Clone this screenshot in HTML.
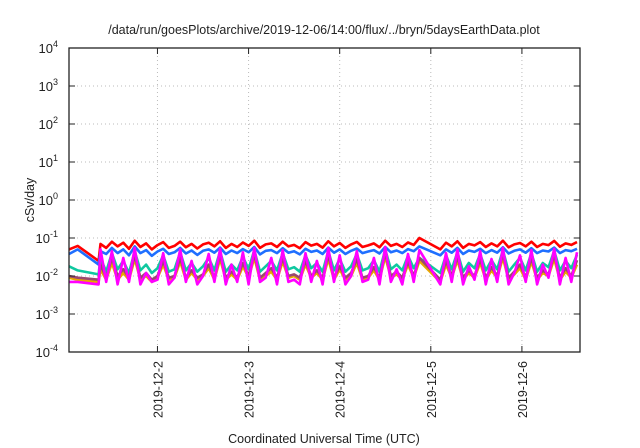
<!DOCTYPE html>
<html><head><meta charset="utf-8"><style>
body{margin:0;background:#fff;}
svg{display:block;font-family:"Liberation Sans",sans-serif;}
</style></head><body>
<svg id="chart" width="640" height="448" viewBox="0 0 640 448" xmlns="http://www.w3.org/2000/svg">
<rect width="640" height="448" fill="#fff"/>
<text x="324" y="34" font-size="12.5" text-anchor="middle" fill="#222">/data/run/goesPlots/archive/2019-12-06/14:00/flux/../bryn/5daysEarthData.plot</text>
<g id="grid"></g>
<g id="series"></g>
<g id="axes"></g>
<text transform="translate(34,200) rotate(-90)" font-size="12.5" text-anchor="middle" fill="#222">cSv/day</text>
<text x="324" y="443" font-size="12.5" text-anchor="middle" fill="#222">Coordinated Universal Time (UTC)</text>
</svg>
<script>
const times=[0.7,3.0,8.5,
9,10.5,12,13.5,15,16.5,18,19.5,21,22.5,24,25.5,27,28.5,30,31.5,33,34.5,36,37.5,39,40.5,42,43.5,45,46.5,48,49.5,51,52.5,54,55.5,57,58.5,60,61.5,63,64.5,66,67.5,69,70.5,72,73.5,75,76.5,78,79.5,81,82.5,84,85.5,87,88.5,90,91.5,93,
98.5,100,101.5,103,104.5,106,107.5,109,110.5,112,113.5,115,116.5,118,119.5,121,122.5,124,125.5,127,128.5,130,131.5,133,134.5];
// values in milli-cSv/day
const redVals=[50,62,25,
70,55,80,60,75,52,85,58,72,50,65,78,55,62,80,57,70,53,68,75,60,82,55,70,58,76,62,85,55,68,72,58,80,60,66,54,78,63,70,56,82,60,74,55,68,79,58,64,72,57,85,62,70,58,76,66,100,
50,75,60,82,55,70,64,78,58,72,60,85,57,68,74,60,80,58,70,65,84,59,72,66,78];
const blueVals=[38,50,20,
45,38,55,40,50,35,60,40,48,34,44,52,38,42,55,39,47,36,46,50,41,56,38,47,40,51,42,58,37,46,48,40,54,41,45,37,52,43,47,38,56,41,50,38,46,53,40,44,48,39,58,42,47,40,51,45,60,
35,50,41,55,38,47,43,52,40,48,41,57,39,46,50,41,54,40,47,44,56,40,48,45,52];
const tealVals=[18,14,11,
30,13,40,15,25,12,45,14,20,12,16,35,13,15,42,14,22,13,18,30,14,45,13,20,14,32,15,48,13,18,25,14,40,15,17,13,35,16,22,13,45,14,28,13,18,38,14,16,26,13,50,15,20,14,34,16,30,
12,35,15,42,13,22,16,38,14,26,15,48,13,20,30,14,40,13,22,17,46,14,25,16,36];
const orangeVals=[9,8,7,
15,8,22,8,12,8,28,8,10,7,9,20,8,9,24,8,12,8,10,16,8,28,8,11,8,18,9,30,8,10,13,8,24,9,10,8,20,9,12,8,28,8,15,8,10,22,8,9,14,8,32,9,11,8,20,9,25,
7,20,9,26,8,12,9,22,8,14,9,30,8,11,16,8,24,8,12,10,28,8,13,9,20];
const brownVals=[10,9,8,
20,9,30,10,15,9,35,9,12,8,10,25,9,10,30,9,14,9,11,20,9,35,9,13,9,22,10,38,9,12,16,9,30,10,11,9,25,10,14,9,35,9,18,9,12,28,9,10,17,9,40,10,13,9,24,10,30,
8,25,10,32,9,14,10,28,9,17,10,38,9,13,20,9,30,9,14,11,36,9,16,10,26];
const magentaVals=[7,7,6,
50,7,45,6,30,7,55,6,12,7,8,40,6,9,50,7,25,6,10,38,7,52,6,20,7,42,6,55,7,9,30,6,48,7,8,6,40,7,25,6,55,7,35,6,10,45,7,8,30,6,58,7,15,6,38,7,48,
6,40,7,50,6,18,8,45,6,28,7,55,6,12,35,7,48,6,20,9,52,6,30,7,42];
const dateLabels=["2019-12-2","2019-12-3","2019-12-4","2019-12-5","2019-12-6"];
const dateHours=[24,48,72,96,120];
const yExps=[-4,-3,-2,-1,0,1,2,3,4];

const L=69,R=580,T=48,B=352,tMin=0.7,tMax=135.3;
const NS="http://www.w3.org/2000/svg";
const xs=t=>L+(t-tMin)/(tMax-tMin)*(R-L);
const ys=v=>B-(Math.log10(v)+4)/8*(B-T);
function mk(tag,attrs,parent){const e=document.createElementNS(NS,tag);for(const k in attrs)e.setAttribute(k,attrs[k]);parent.appendChild(e);return e;}
const grid=document.getElementById('grid'),axes=document.getElementById('axes'),ser=document.getElementById('series');
yExps.forEach(ex=>{
  const y=ys(Math.pow(10,ex));
  if(ex>-4&&ex<4){const g=mk('line',{x1:L,x2:R,y1:y,y2:y,stroke:'#bbb','stroke-width':1,'stroke-dasharray':'1,3'},grid);
  
  }
  mk('line',{x1:L,x2:L+6,y1:y,y2:y,stroke:'#222','stroke-width':1},axes);
  mk('line',{x1:R,x2:R-6,y1:y,y2:y,stroke:'#222','stroke-width':1},axes);
  const t=mk('text',{x:58,y:y+5,'font-size':13,'text-anchor':'end',fill:'#222'},axes);
  
  
  t.textContent='10';
  const s=mk('tspan',{dy:-6,'font-size':9},t);s.textContent=String(ex);
});
dateHours.forEach((h,i)=>{
  const x=xs(h);
  const g=mk('line',{x1:x,x2:x,y1:T,y2:B,stroke:'#bbb','stroke-width':1,'stroke-dasharray':'1,3'},grid);
  
  
  mk('line',{x1:x,x2:x,y1:B,y2:B-6,stroke:'#222','stroke-width':1},axes);
  mk('line',{x1:x,x2:x,y1:T,y2:T+6,stroke:'#222','stroke-width':1},axes);
  const t=mk('text',{transform:`translate(${x+5},${B+9}) rotate(-90)`,'font-size':12.5,'text-anchor':'end',fill:'#222'},axes);
  
  
  t.textContent=dateLabels[i];
});
const frame=mk('rect',{x:L,y:T,width:R-L,height:B-T,fill:'none',stroke:'#222','stroke-width':1.3},axes);


const list=[[redVals,'#ff0000','series-red'],[blueVals,'#1f6fff','series-blue'],[tealVals,'#10c8a0','series-teal'],[orangeVals,'#e8a800','series-orange'],[brownVals,'#9a4870','series-purple'],[magentaVals,'#ff00ff','series-magenta']];
list.forEach(([vals,col,name])=>{
  const d=vals.map((v,i)=>(i?'L':'M')+xs(times[i]).toFixed(1)+','+ys(v*1e-3).toFixed(1)).join('');
  const p=mk('path',{d:d,fill:'none',stroke:col,'stroke-width':2.6,'stroke-linejoin':'round'},ser);
  
  
});
</script>
</body></html>
